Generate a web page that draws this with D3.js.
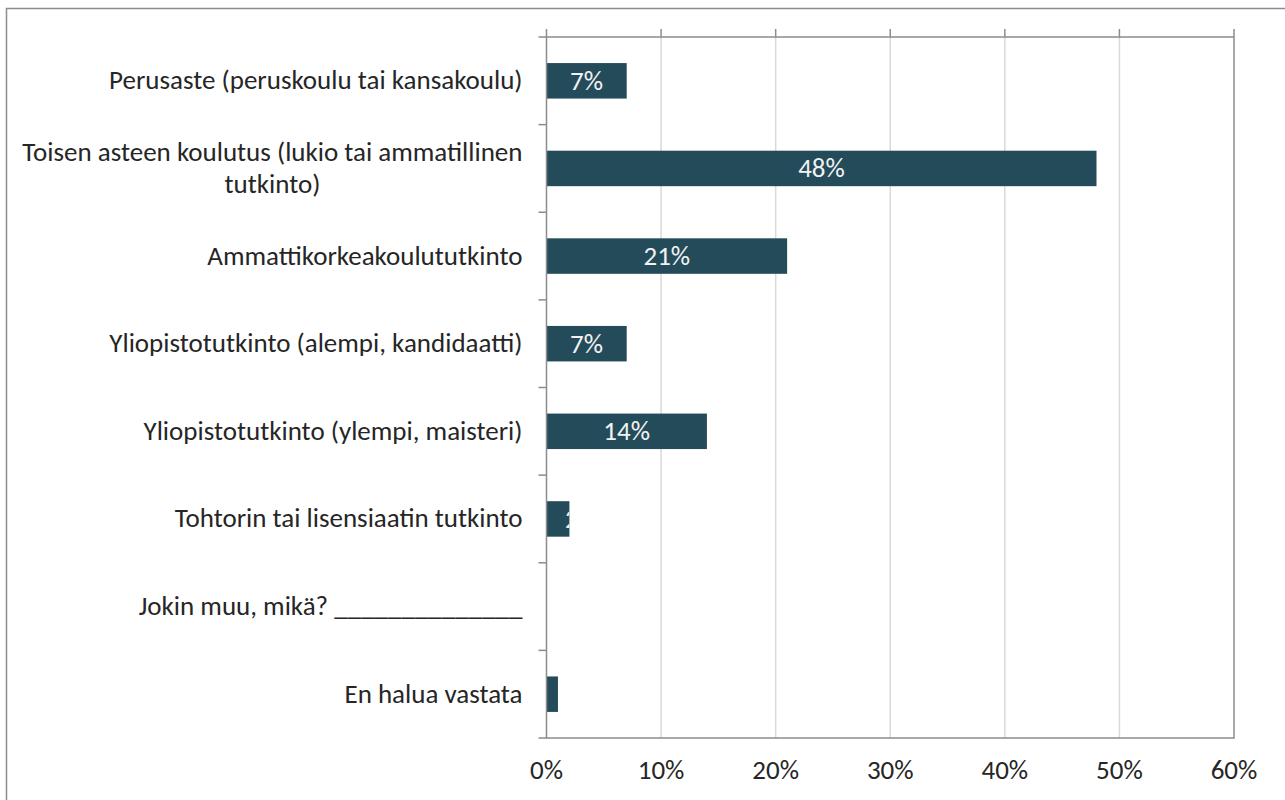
<!DOCTYPE html>
<html>
<head>
<meta charset="utf-8">
<script src="https://cdn.jsdelivr.net/npm/d3@7"></script>
<style>
  body { margin: 0; background: #fff; }
  text { font-family: Carlito, Calibri, Lato, sans-serif; }
</style>
</head>
<body>
<div id="chart"></div>
<script>
// categories and values (percent)
var categories = [
	["Perusaste (peruskoulu tai kansakoulu)"],
	["Toisen asteen koulutus (lukio tai ammatillinen", "tutkinto)"],
	["Ammattikorkeakoulututkinto"],
	["Yliopistotutkinto (alempi, kandidaatti)"],
	["Yliopistotutkinto (ylempi, maisteri)"],
	["Tohtorin tai lisensiaatin tutkinto"],
	["Jokin muu, mikä? ______________"],
	["En halua vastata"]
];
var values = [7, 48, 21, 7, 14, 2, 0, 1];
var xTicks = [0, 10, 20, 30, 40, 50, 60];

var W = 1285, H = 800;
var fontSize = 27;
var margin = {top: 37, left: 546.5};
var width = 1234 - margin.left,
	height = 738 - margin.top;

var svg = d3.select("#chart").append("svg")
	.attr("width", W)
	.attr("height", H);

// outer chart frame
svg.append("rect")
	.attr("x", 6.5).attr("y", 8.5)
	.attr("width", W + 10).attr("height", H + 10)
	.attr("fill", "none")
	.attr("stroke", "#8c8c8c")
	.attr("stroke-width", 1.5);

var g = svg.append("g")
	.attr("transform", "translate(" + margin.left + "," + margin.top + ")");

var xScale = d3.scaleLinear().domain([0, 60]).range([0, width]);
var yScale = d3.scaleBand()
	.domain(d3.range(categories.length))
	.range([0, height])
	.paddingInner(0.595)
	.paddingOuter(0.2975);
var step = yScale.step();

// gridlines
g.selectAll(".grid")
	.data(xTicks.slice(1, -1))
	.enter().append("line")
	.attr("x1", function(d) { return xScale(d); })
	.attr("x2", function(d) { return xScale(d); })
	.attr("y1", 0).attr("y2", height)
	.attr("stroke", "#d9d9d9")
	.attr("stroke-width", 1.5);

// clip paths = bar shapes, so white labels only show on the bar
var defs = svg.append("defs");
defs.selectAll("clipPath")
	.data(values)
	.enter().append("clipPath")
	.attr("id", function(d, i) { return "clip" + i; })
	.append("rect")
	.attr("x", xScale(0))
	.attr("y", function(d, i) { return yScale(i); })
	.attr("width", function(d) { return xScale(d) - xScale(0); })
	.attr("height", yScale.bandwidth());

// bars
g.selectAll(".bar")
	.data(values)
	.enter().append("rect")
	.attr("x", xScale(0))
	.attr("y", function(d, i) { return yScale(i); })
	.attr("width", function(d) { return xScale(d) - xScale(0); })
	.attr("height", yScale.bandwidth())
	.attr("fill", "#244b5a");

// value labels (white, centered in bar, clipped to bar)
g.selectAll(".vlabel")
	.data(values)
	.enter().append("text")
	.attr("clip-path", function(d, i) { return "url(#clip" + i + ")"; })
	.attr("x", function(d) { return Math.max(xScale(d / 2), 35); })
	.attr("y", function(d, i) { return yScale(i) + yScale.bandwidth() / 2 + 9; })
	.attr("text-anchor", "middle")
	.style("font-size", fontSize + "px")
	.style("fill", "#f2f2f2")
	.text(function(d) { return d > 0 ? d + "%" : ""; });

// plot frame
g.append("rect")
	.attr("x", 0).attr("y", 0)
	.attr("width", width).attr("height", height)
	.attr("fill", "none")
	.attr("stroke", "#8c8c8c")
	.attr("stroke-width", 1.5);

// top ticks
g.selectAll(".xtick")
	.data(xTicks)
	.enter().append("line")
	.attr("x1", function(d) { return xScale(d); })
	.attr("x2", function(d) { return xScale(d); })
	.attr("y1", -8).attr("y2", 0)
	.attr("stroke", "#8c8c8c")
	.attr("stroke-width", 1.5);

// category ticks on the left
g.selectAll(".ytick")
	.data(d3.range(categories.length + 1))
	.enter().append("line")
	.attr("x1", -8).attr("x2", 0)
	.attr("y1", function(d) { return d * step; })
	.attr("y2", function(d) { return d * step; })
	.attr("stroke", "#8c8c8c")
	.attr("stroke-width", 1.5);

// x tick labels
g.selectAll(".xlabel")
	.data(xTicks)
	.enter().append("text")
	.attr("x", function(d) { return xScale(d); })
	.attr("y", height + 41)
	.attr("text-anchor", "middle")
	.style("font-size", fontSize + "px")
	.style("fill", "#262626")
	.text(function(d) { return d + "%"; });

// category labels
var lineH = 32;
g.selectAll(".ylabel")
	.data(categories)
	.enter().append("text")
	.style("font-size", fontSize + "px")
	.style("fill", "#262626")
	.each(function(lines, i) {
		var t = d3.select(this);
		var cy = yScale(i) + yScale.bandwidth() / 2;
		var y0 = cy - (lines.length - 1) * lineH / 2 + 8.5;
		var first = t.append("tspan")
			.attr("x", -24).attr("y", y0)
			.attr("text-anchor", "end")
			.text(lines[0]);
		var w0 = first.node().getComputedTextLength();
		for (var k = 1; k < lines.length; k++) {
			t.append("tspan")
				.attr("x", -24 - w0 / 2).attr("y", y0 + k * lineH)
				.attr("text-anchor", "middle")
				.text(lines[k]);
		}
	});
</script>
</body>
</html>
